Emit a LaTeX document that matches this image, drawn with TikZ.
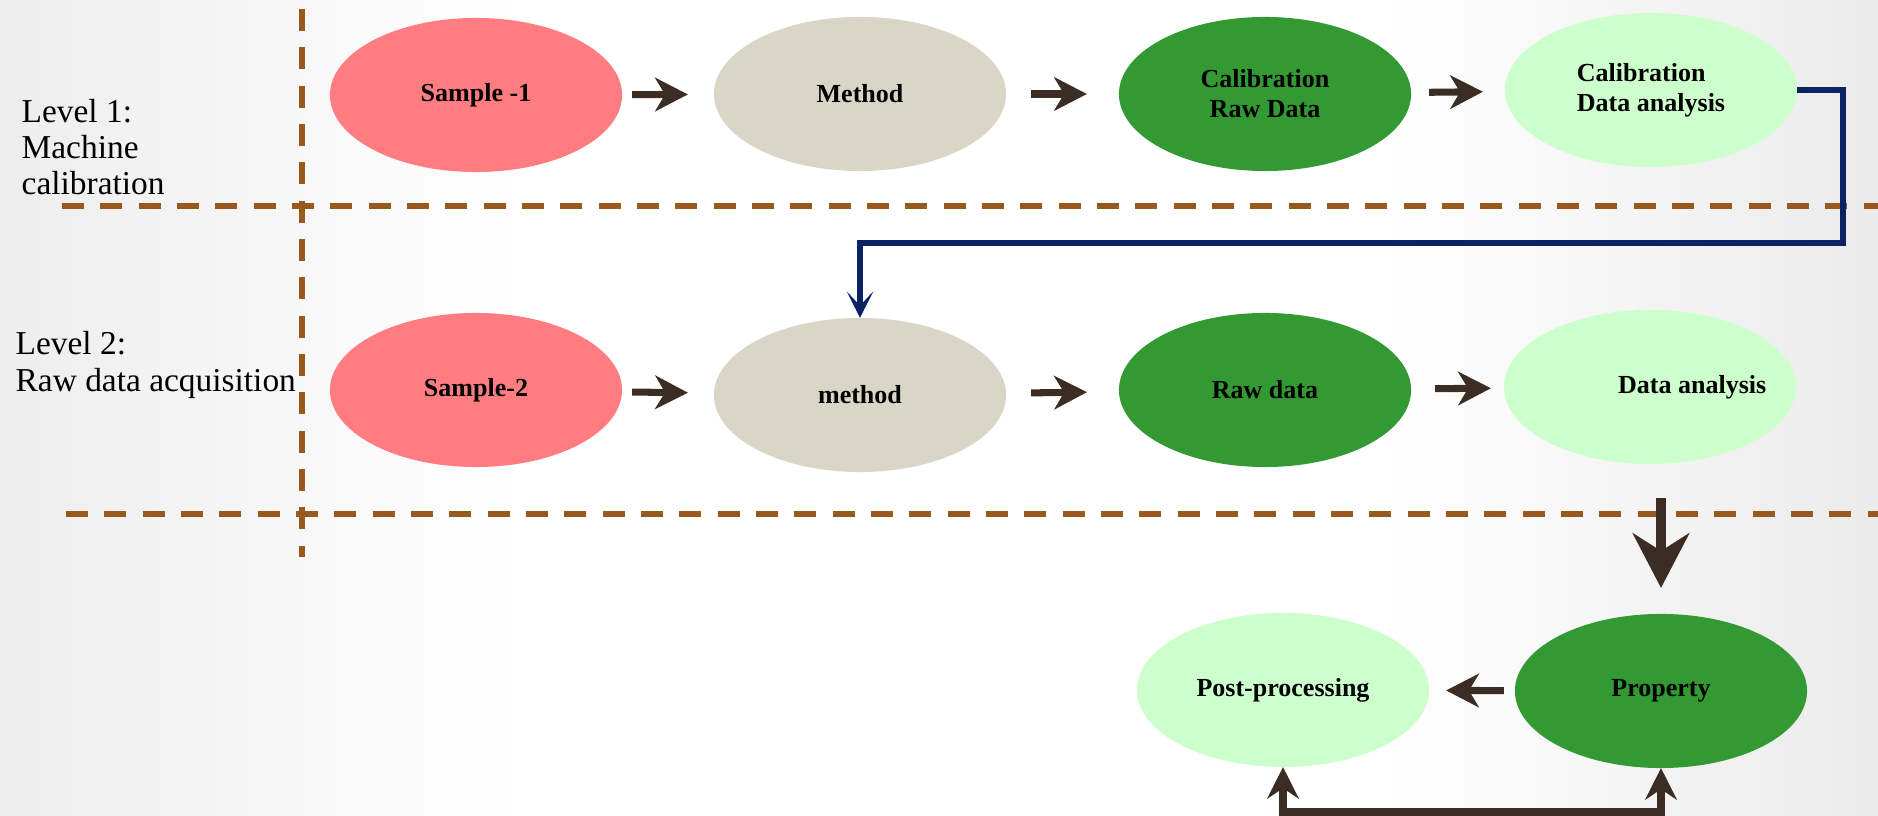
\documentclass[tikz,border=0pt]{standalone}
\usepackage{fontspec}
\setmainfont{Liberation Serif}
\usepackage{tikz}
\usetikzlibrary{positioning, arrows.meta, shapes.geometric}

\definecolor{samplered}{HTML}{FF7C80}
\definecolor{methodgray}{HTML}{D9D5C7}
\definecolor{rawgreen}{HTML}{339933}
\definecolor{paleGreen}{HTML}{CCFFCC}
\definecolor{dashbrown}{HTML}{99581E}
\definecolor{arrowbrown}{HTML}{3C2D24}
\definecolor{navyline}{HTML}{0A2463}

\tikzset{
  blob/.style={ellipse, minimum width=2.92cm, minimum height=1.54cm, inner sep=0pt, outer sep=0pt,
    font=\bfseries\fontsize{7.4}{8.5}\selectfont, align=center},
  sample/.style={blob, fill=samplered},
  method/.style={blob, fill=methodgray},
  rawdata/.style={blob, fill=rawgreen},
  analysis/.style={blob, fill=paleGreen, align=left},
  flow/.style={draw=arrowbrown, line width=2pt, -{Stealth[length=9.3pt,width=9.5pt,inset=2.8pt]}},
  bigflow/.style={draw=arrowbrown, line width=3.1pt, -{Stealth[length=15.5pt,width=16pt,inset=5pt]}},
  loopflow/.style={draw=arrowbrown, line width=2.1pt,
    {Stealth[length=9pt,width=9pt,inset=3pt]}-{Stealth[length=9pt,width=9pt,inset=3pt]}},
  feedback/.style={draw=navyline, line width=1.7pt, -{Stealth[length=7.5pt,width=7.5pt,inset=4pt]}},
  divider/.style={draw=dashbrown, line width=1.8pt, dash pattern=on 6.3pt off 4.6pt},
  levelname/.style={font=\fontsize{9.5}{10.3}\selectfont, align=left, anchor=west, inner sep=0pt}
}

\begin{document}
\begin{tikzpicture}[x=0.01cm, y=-0.01cm]
    % Background
    \useasboundingbox (0,0) rectangle (1878,816);
    \fill[left color=gray!14, right color=white] (0,0) rectangle (520,816);
    \fill[left color=white, right color=gray!16] (1380,0) rectangle (1878,816);

    % Draw dividers
    \draw[divider] (302,9) -- (302,557);
    \draw[divider] (62,206) -- (1878,206);
    \draw[divider] (66,514) -- (1878,514);

    % Level names
    \node[levelname] (lvl1) at (21,147) {Level 1:\\Machine\\calibration};
    \node[levelname] (lvl2) at (15,365) {Level 2:\\Raw data acquisition};

    % Data
    \foreach \n/\s/\x/\y/\t in {s1/sample/476/95/{Sample -1}, m1/method/860/94/Method,
        crd/rawdata/1265/94/{Calibration\\Raw Data}, cda/analysis/1651/90/{Calibration\\Data analysis},
        s2/sample/476/390/Sample-2, m2/method/860/395/method,
        rd/rawdata/1265/390/{Raw data}, da/analysis/1650/387/{\makebox[0pt]{\hspace*{24pt}Data analysis}},
        post/analysis/1283/690/Post-processing, prop/rawdata/1661/691/Property} {
      \node[\s] (\n) at (\x,\y) {\t};
    }

    % Draw flow arrows
    \foreach \a/\b/\p/\q in {s1/m1/0.10/0.26, m1/crd/0.25/0.32, crd/cda/0.18/0.22,
        s2/m2/0.10/0.26, m2/rd/0.25/0.32, rd/da/0.24/0.13, prop/post/0.11/0.17} {
      \draw[flow, shorten <=\p cm, shorten >=\q cm] (\a) -- (\b);
    }

    % Feedback to level 2
    \coordinate (turn) at (1843,243);
    \draw[feedback] (cda.east) -| (turn) -| (m2.north);

    \draw[bigflow, shorten <=0.34cm, shorten >=0.26cm] (da.south -| prop.north) -- (prop.north);

    \coordinate (loopbase) at (1470,812);
    \draw[loopflow] (post.south) |- (loopbase) -| (prop.south);

\end{tikzpicture}
\end{document}
